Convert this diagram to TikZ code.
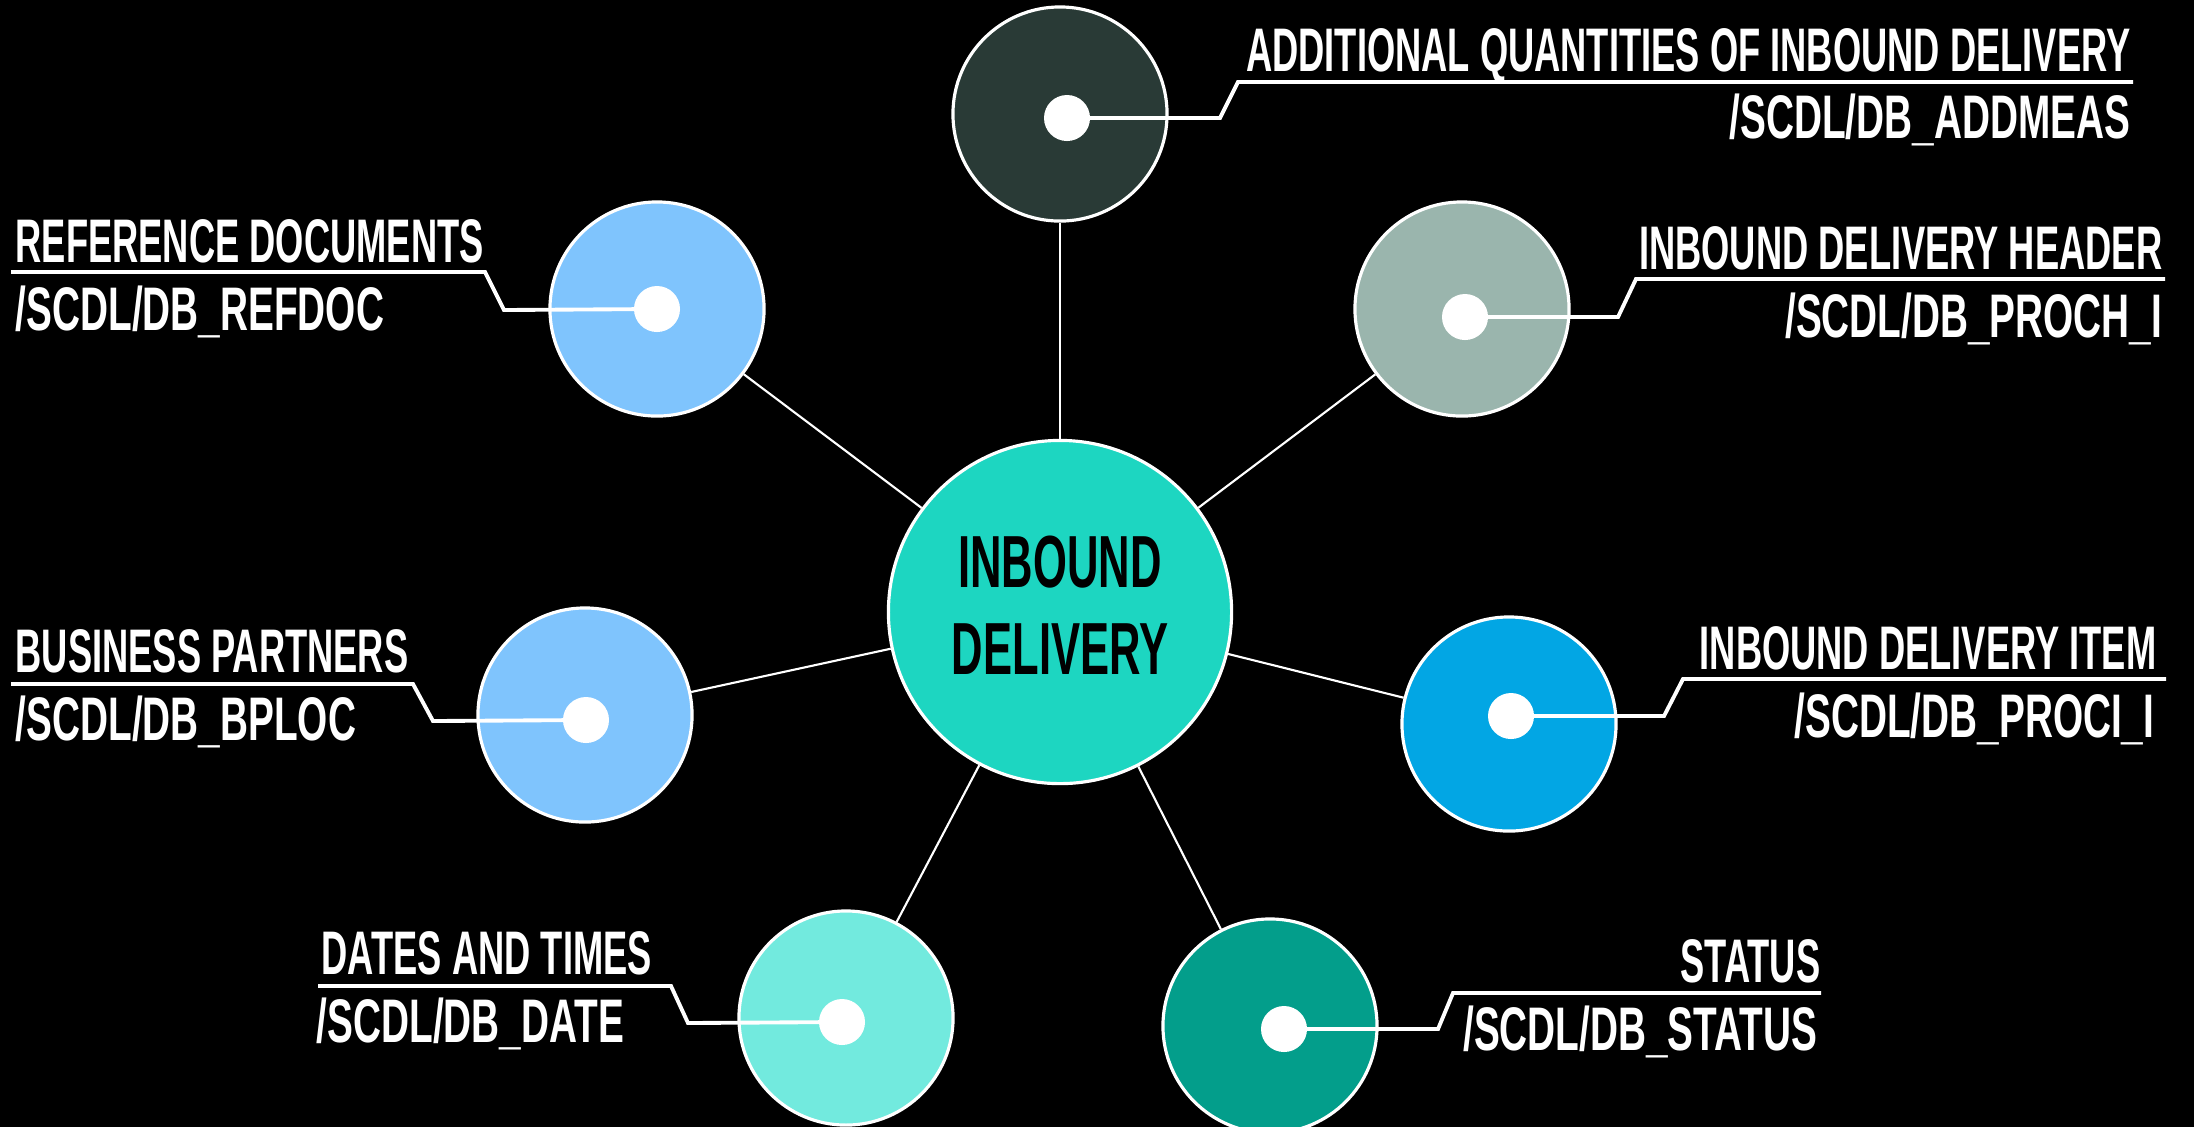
\documentclass[tikz,border=0pt]{standalone}
\usepackage{fontspec}
\newfontfamily\narrowfont{Liberation Sans}[FakeStretch=0.59]
\newfontfamily\tablefont{Liberation Sans}[FakeStretch=0.63]
\usetikzlibrary{calc}
\definecolor{hubcol}{RGB}{29,214,193}
\definecolor{darkcol}{RGB}{41,58,54}
\definecolor{skycol}{RGB}{127,196,253}
\definecolor{sagecol}{RGB}{154,181,173}
\definecolor{bluecol}{RGB}{2,166,228}
\definecolor{aquacol}{RGB}{114,234,222}
\definecolor{tealcol}{RGB}{3,158,139}
\tikzstyle{hub}=[circle,fill=hubcol,draw=white,line width=0.9pt,minimum size=3.43cm,inner sep=0pt]
\tikzstyle{hubtext}=[inner sep=0pt,align=center,font=\narrowfont\bfseries\fontsize{21}{24.7}\selectfont]
\tikzstyle{satellite}=[circle,draw=white,line width=0.9pt,minimum size=2.14cm,inner sep=0pt]
\tikzstyle{knob}=[circle,fill=white,minimum size=0.46cm,inner sep=0pt]
\tikzstyle{spoke}=[draw,white,line width=0.6pt]
\tikzstyle{leader}=[draw,white,line width=1.1pt]
\tikzstyle{heading}=[text=white,inner sep=0pt,font=\narrowfont\bfseries\fontsize{17.5}{20}\selectfont]
\tikzstyle{tablename}=[text=white,inner sep=0pt,font=\tablefont\bfseries\fontsize{17.5}{20}\selectfont]

\begin{document}
\begin{tikzpicture}[x=0.01cm,y=-0.01cm]
    \useasboundingbox (0,0) rectangle (2194,1126);
    \fill[black] (-10,-10) rectangle (2204,1136);

    \node[hub] (hub) at (1060,612) {};
    \node[hubtext] (hub-text) at ([yshift=2pt]hub.center) {INBOUND\\DELIVERY};

    \foreach \x/\y/\name/\col in {1060/114/addmeas/darkcol, 657/309/refdoc/skycol,
        1462/309/proch/sagecol, 585/715/bploc/skycol, 1509/724/proci/bluecol,
        846/1018/date/aquacol, 1270/1026/status/tealcol}
        \node[satellite,fill=\col] (\name) at (\x,\y) {};

    % spokes from the hub
    \foreach \dest in {addmeas,refdoc,proch,bploc,proci,date,status}
        \path[spoke] (hub) -- (\dest);

    % knobs and leader bends
    \foreach \name/\kx/\ky/\bx/\by/\tx/\ty/\ex in {
        addmeas/1067/118/1220/118/1238/82/2133,
        refdoc/657/309/504/310/485/272/11,
        proch/1465/317/1618/317/1636/279/2165,
        bploc/586/720/433/721/413/684/11,
        proci/1511/716/1664/716/1683/679/2166,
        date/842/1022/688/1023/671/986/318,
        status/1284/1029/1438/1029/1453/993/1821}
    {
        \node[knob] (\name-knob) at (\kx,\ky) {};
        \coordinate (\name-bend) at (\bx,\by);
        \coordinate (\name-kink) at (\tx,\ty);
        \coordinate (\name-end) at (\ex,\ty);
        \path[leader] (\name-knob.center) -- (\name-bend) -- (\name-kink) -- (\name-end);
    }

    % texts on the left
    \node[heading,anchor=base west] (refdoc-title) at (15,262) {REFERENCE DOCUMENTS};
    \node[tablename,anchor=base west] (refdoc-table) at (15,330) {/SCDL/DB\_REFDOC};
    \node[heading,anchor=base west] (bploc-title) at (15,672) {BUSINESS PARTNERS};
    \node[tablename,anchor=base west] (bploc-table) at (15,740) {/SCDL/DB\_BPLOC};
    \node[heading,anchor=base west] (date-title) at (321,974) {DATES AND TIMES};
    \node[tablename,anchor=base west] (date-table) at (316,1042) {/SCDL/DB\_DATE};

    % texts on the right
    \node[heading,anchor=base east] (addmeas-title) at (2131,71) {ADDITIONAL QUANTITIES OF INBOUND DELIVERY};
    \node[tablename,anchor=base east] (addmeas-table) at (2131,138) {/SCDL/DB\_ADDMEAS};
    \node[heading,anchor=base east] (proch-title) at (2163,269) {INBOUND DELIVERY HEADER};
    \node[tablename,anchor=base east] (proch-table) at (2163,337) {/SCDL/DB\_PROCH\_I};
    \node[heading,anchor=base east] (proci-title) at (2157,669) {INBOUND DELIVERY ITEM};
    \node[tablename,anchor=base east] (proci-table) at (2155,737) {/SCDL/DB\_PROCI\_I};
    \node[heading,anchor=base east] (status-title) at (1821,982) {STATUS};
    \node[tablename,anchor=base east] (status-table) at (1818,1050) {/SCDL/DB\_STATUS};

\end{tikzpicture}
\end{document}
